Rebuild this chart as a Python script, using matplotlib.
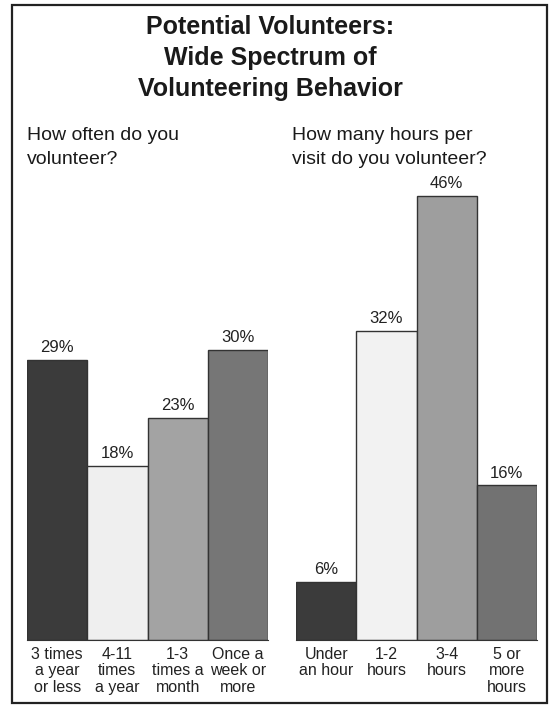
import matplotlib.pyplot as plt
from matplotlib.patches import Rectangle

plt.rcParams['font.family'] = ['Liberation Sans', 'DejaVu Sans']

# frequency of volunteering
freq_labels = ['3 times\na year\nor less', '4-11\ntimes\na year', '1-3\ntimes a\nmonth', 'Once a\nweek or\nmore']
freq_values = [29, 18, 23, 30]
freq_colors = ['#3b3b3b', '#efefef', '#a3a3a3', '#767676']

# hours per visit
hours_labels = ['Under\nan hour', '1-2\nhours', '3-4\nhours', '5 or\nmore\nhours']
hours_values = [6, 32, 46, 16]
hours_colors = ['#3b3b3b', '#f2f2f2', '#9e9e9e', '#727272']

W, H = 551, 706
fig = plt.figure(figsize=(W / 100, H / 100), dpi=100)
fig.patch.set_facecolor('white')

# outer frame
fig.add_artist(Rectangle((12 / W, 1 - 703 / H), 535 / W, 698 / H, transform=fig.transFigure,
                         fill=False, edgecolor='#222222', linewidth=1.6))

# title
for i, line in enumerate(['Potential Volunteers:', 'Wide Spectrum of', 'Volunteering Behavior']):
    fig.text(270 / W, 1 - (27 + i * 31) / H, line, ha='center', va='center',
             fontsize=18, fontweight='bold', color='#1a1a1a')

for x, lines in [(27, ['How often do you', 'volunteer?']),
                 (292, ['How many hours per', 'visit do you volunteer?'])]:
    for i, line in enumerate(lines):
        fig.text(x / W, 1 - (136 + i * 24) / H, line, ha='left', va='center',
                 fontsize=14, color='#1a1a1a')


def draw_panel(x0, x1, labels, values, colors):
    base = 640
    top = base - 50 * 9.66
    ax = fig.add_axes([x0 / W, 1 - base / H, (x1 - x0) / W, (base - top) / H])
    ax.bar(range(len(values)), values, width=1.0, color=colors, edgecolor='#333333', linewidth=1.0)
    for i, v in enumerate(values):
        ax.text(i, v + 0.5, f'{v}%', ha='center', va='bottom', fontsize=12, color='#222222')
    ax.set_xlim(-0.5, len(values) - 0.5)
    ax.set_ylim(0, 50)
    ax.set_xticks(range(len(values)))
    ax.set_xticklabels(labels, fontsize=11.5, color='#222222', linespacing=1.12)
    ax.tick_params(axis='x', length=0, pad=5)
    ax.set_yticks([])
    for side in ['top', 'left', 'right']:
        ax.spines[side].set_visible(False)
    ax.spines['bottom'].set_color('#333333')
    ax.patch.set_alpha(0)


draw_panel(27, 268, freq_labels, freq_values, freq_colors)
draw_panel(296, 537, hours_labels, hours_values, hours_colors)

fig.savefig('out.png', dpi=100, facecolor='white')
